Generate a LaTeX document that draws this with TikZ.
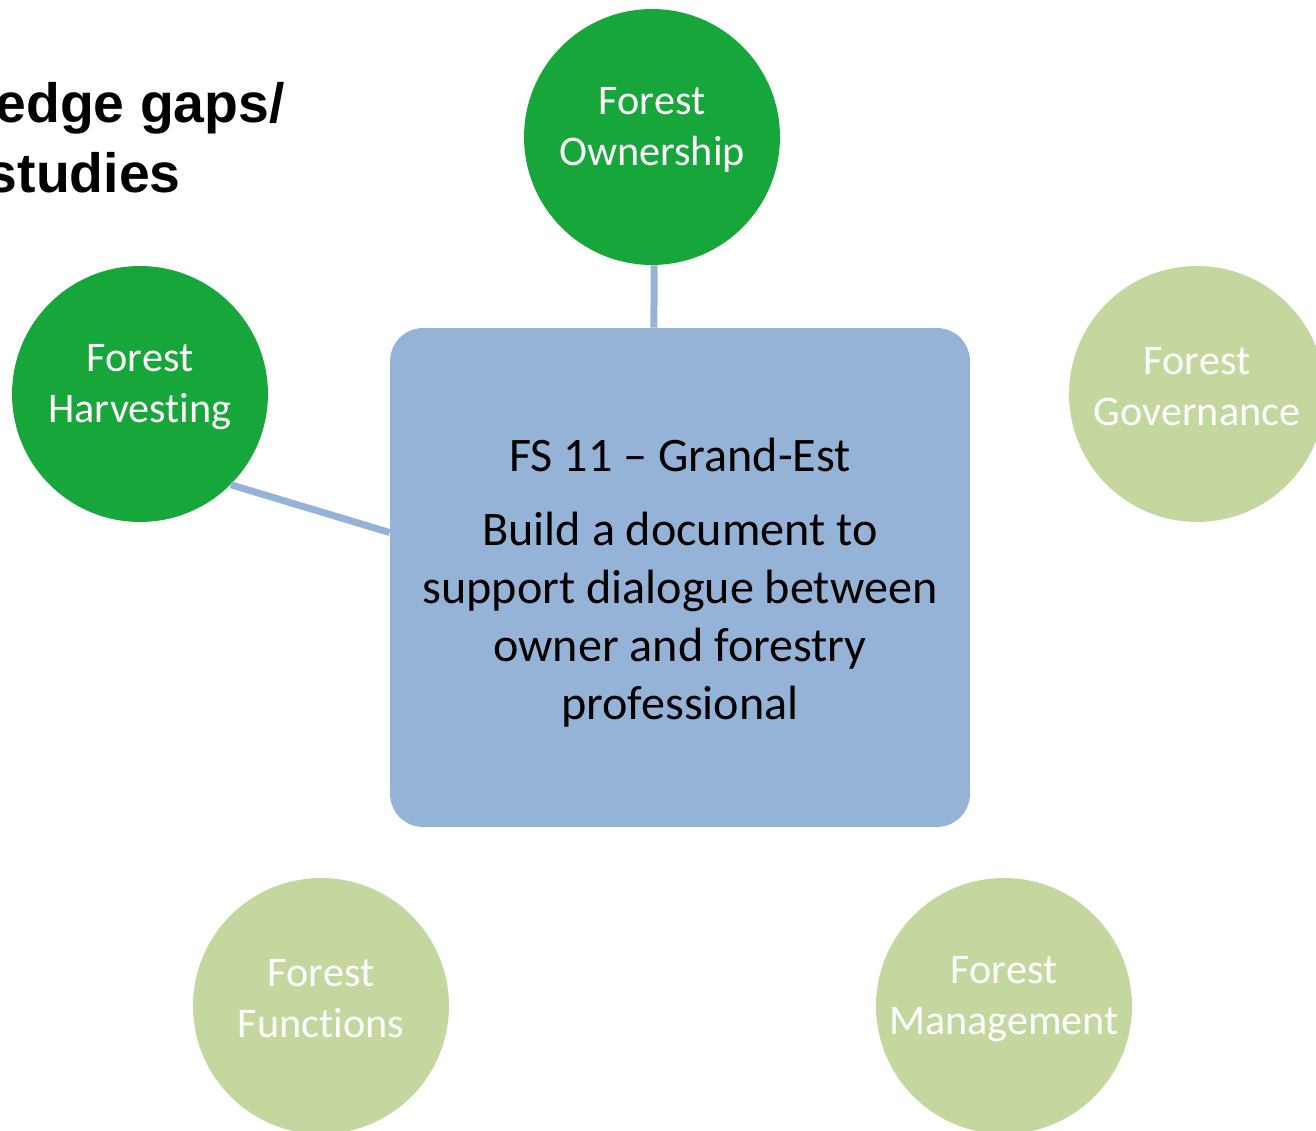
\documentclass[tikz,border=0pt]{standalone}
\usepackage{fontspec}
\setmainfont{Carlito}[RawFeature=-liga]
\newfontfamily\titlefont{Liberation Sans}
\usetikzlibrary{calc}
\definecolor{fsgreen}{RGB}{23,166,58}
\definecolor{fslight}{RGB}{196,215,158}
\definecolor{fsblue}{RGB}{149,179,215}

\begin{document}
\begin{tikzpicture}[x=0.02cm,y=-0.02cm,
		topic/.style={circle,minimum size=5.12cm,inner sep=0pt},
		topictext/.style={align=center,text=white,yshift=0.14cm,font=\fontsize{24}{29}\selectfont},
		hubbox/.style={rectangle,rounded corners=0.66cm,fill=fsblue,minimum width=11.6cm,minimum height=9.98cm},
		hubtext/.style={align=center,yshift=-0.1cm,font=\fontsize{27.4}{33}\selectfont},
		link/.style={line width=0.14cm,color=fsblue},
		titletext/.style={inner sep=0pt,anchor=base east,font=\titlefont\bfseries\fontsize{31.5}{38}\selectfont}]
	\useasboundingbox (0,0) rectangle (1316,1131);
	\node[titletext] (title1) at (285,123) {edge gaps/};
	\node[titletext] (title2) at (181,193) {studies};
	\node[hubbox,label={[hubtext]center:FS 11 – Grand-Est\\[0.32cm]Build a document to\\support dialogue between\\owner and forestry\\professional}] (hub) at (680,577.5) {};
	\node[topic,fill=fsgreen,label={[topictext]center:Forest\\Ownership}] (own) at (652,137) {};
	\node[topic,fill=fsgreen,label={[topictext]center:Forest\\Harvesting}] (harv) at (140,394) {};
	\node[topic,fill=fslight,label={[topictext]center:Forest\\Governance}] (gov) at (1197,394) {};
	\node[topic,fill=fslight,label={[topictext]center:Forest\\Functions}] (func) at (321,1006) {};
	\node[topic,fill=fslight,label={[topictext]center:Forest\\Management}] (mgmt) at (1004,1006) {};
	\draw[link] (own.-89) -- ($(hub.north west)!0.455!(hub.north east)$);
	\draw[link] (harv.-45) -- ($(hub.north west)!0.41!(hub.south west)$);
\end{tikzpicture}
\end{document}
